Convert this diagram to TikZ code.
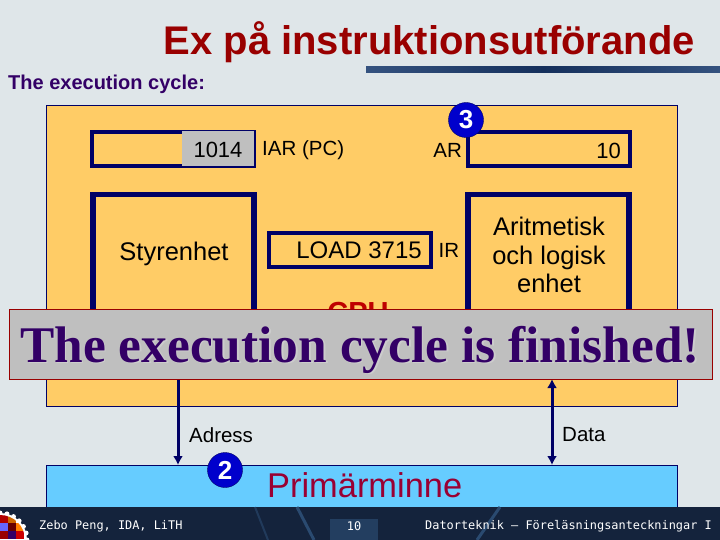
\documentclass[tikz,border=0pt]{standalone}
\usepackage{fontspec}
\setmainfont{Liberation Sans}
\newfontfamily\bannerfont{Liberation Serif}
\newfontfamily\footfont{DejaVu Sans Mono}
\usetikzlibrary{positioning, arrows.meta, shapes.geometric}

\definecolor{slidebg}{HTML}{DFE6E9}
\definecolor{cpufill}{HTML}{FFCC66}
\definecolor{memfill}{HTML}{66CCFF}
\definecolor{navy}{HTML}{000066}
\definecolor{titlered}{HTML}{990000}
\definecolor{memred}{HTML}{990033}
\definecolor{violet}{HTML}{330066}
\definecolor{footbg}{HTML}{14233C}
\definecolor{footline}{HTML}{2A4A70}
\definecolor{ruleA}{HTML}{34527F}
\definecolor{ruleB}{HTML}{15305C}

\begin{document}
\begin{tikzpicture}[
    x=1pt, y=-1pt,
    % --- Styles ---
    panel/.style={
        rectangle,
        draw=navy,
        line width=1pt,
        anchor=north west,
        inner sep=0pt
    },
    register/.style={
        rectangle,
        draw=navy,
        line width=4pt,
        minimum height=34pt,
        anchor=north west,
        inner sep=0pt
    },
    unitbox/.style={
        rectangle,
        draw=navy,
        line width=5.5pt,
        minimum height=176pt,
        anchor=north west,
        inner sep=0pt
    },
    unittext/.style={
        align=center,
        inner sep=0pt,
        font=\fontsize{25.5}{28.5}\selectfont
    },
    regtext/.style={
        inner sep=0pt,
        font=\fontsize{22}{26}\selectfont
    },
    tag/.style={
        inner sep=0pt,
        font=\fontsize{20.5}{24}\selectfont
    },
    stepmark/.style={
        circle,
        fill=blue!80!black,
        draw=navy,
        text=white,
        minimum size=35pt,
        inner sep=0pt,
        font=\fontsize{26}{26}\selectfont\bfseries
    },
    bannertext/.style={
        inner sep=0pt,
        font=\fontsize{51.4}{56}\selectfont\bfseries\bannerfont
    },
    foottext/.style={
        inner sep=0pt,
        text=white,
        font=\fontsize{11.9}{14}\selectfont\footfont
    },
    bus/.style={
        draw=navy,
        line width=3pt
    },
    busarrow/.style={
        -{Latex[length=9pt, width=10pt]},
        bus
    }
]

\useasboundingbox (0,0) rectangle (720,540);
\fill[slidebg] (0,0) rectangle (720,540);

% --- Title ---
\node[anchor=base east, inner sep=0pt, text=titlered, font=\fontsize{40}{44}\selectfont\bfseries] (title) at (695,55) {Ex på instruktionsutförande};
\node[anchor=north west, minimum width=177pt, minimum height=6pt, inner sep=0pt,
    left color=ruleA, right color=ruleB] (ruleleft) at (366,66) {};
\node[anchor=north west, minimum width=177pt, minimum height=6pt, inner sep=0pt,
    left color=ruleB, right color=ruleA] (ruleright) at (543,66) {};
\node[anchor=base west, inner sep=0pt, text=violet, font=\fontsize{20}{24}\selectfont\bfseries] (cycle) at (8,90) {The execution cycle:};

% --- Nodes ---
\node[panel, fill=cpufill, minimum width=631pt, minimum height=301pt] (cpu) at (46,105) {};
\node[panel, fill=memfill, minimum width=631pt, minimum height=60pt] (mem) at (46,465) {};

\node[register, minimum width=162pt] (iar) at (90,130) {};
\node[anchor=east, fill=black!25, minimum width=72pt, minimum height=35pt, inner sep=0pt] (iarval) at ([xshift=-2pt]iar.east) {};
\node[regtext] (iarnum) at (218,150) {1014};
\node[tag, right=6pt of iar, yshift=-1pt] (iarlabel) {IAR (PC)};

\node[register, minimum width=162pt] (ar) at (466,130) {};
\node[tag, left=4pt of ar, yshift=-1pt] (arlabel) {AR};
\node[regtext, anchor=east] (arnum) at (621,151) {10};

\node[unitbox, minimum width=161pt] (ctrl) at (90,192) {};
\node[unittext] (ctrltext) at (174,254) {Styrenhet};
\node[unitbox, minimum width=161pt] (alu) at (465,192) {};
\node[unittext] (alutext) at (549,255) {Aritmetisk \\ och logisk \\ enhet};

\node[register, minimum width=161.5pt] (ir) at (267,231) {};
\node[regtext, anchor=east, font=\fontsize{24}{26}\selectfont] (irnum) at (422,250) {LOAD 3715};
\node[tag, right=6pt of ir] (irlabel) {IR};

\node[inner sep=0pt, text=red!75!black, font=\fontsize{29}{32}\selectfont\bfseries] (cpulabel) at (358,313) {CPU};

\node[stepmark] (three) at (466,120) {3};

% --- Arrows ---
\coordinate (adrtop) at (178,345);
\coordinate (datatop) at (552,379);
\draw[busarrow] (adrtop) -- (adrtop |- mem.north);
\draw[busarrow, {Latex[length=9pt, width=10pt]}-{Latex[length=9pt, width=10pt]}] (datatop) -- (datatop |- mem.north);

\node[tag, anchor=west] (adrlabel) at (189,435) {Adress};
\node[tag, anchor=west] (datalabel) at (562,435) {Data};
\node[stepmark] (two) at (225,470) {2};
\node[anchor=west, inner sep=0pt, text=memred, font=\fontsize{34.4}{38}\selectfont] (memlabel) at (267,485) {Primärminne};

% --- Banner ---
\node[rectangle, draw=titlered, fill=black!25, minimum width=703pt, minimum height=70pt, inner sep=0pt] (banner) at (360.5,344.5) {};
\node[bannertext, text=white!80!black] (bannershadow) at (361.5,351) {The execution cycle is finished!};
\node[bannertext, text=violet] (bannerlabel) at (360,349.5) {The execution cycle is finished!};

% --- Footer ---
\fill[footbg] (0,507) rectangle (720,540);
\fill[footline!70!footbg] (330,519) rectangle (378,540);
\draw[footline, line width=3pt] (297,507) -- (314,540);
\draw[footline, line width=3pt] (500,507) -- (477,540);
\draw[footline, line width=2pt, opacity=.6] (255,507) -- (268,540);
\foreach \a in {0,15,...,90}
    \fill[white] (0,540) ++(-\a:27) circle (2.5pt);
\fill[white] (0,540) circle (27pt);
\begin{scope}
    \clip (0,540) circle (25pt);
    \foreach \col/\px/\py in {red!70!black/0/515, orange!80!black/8/515, blue!60/0/523, black!60!red/8/523, orange/16/523, red!60!black/0/531, violet/8/531, red!80!black/16/531}
        \fill[\col] (\px,\py) rectangle ++(8,8);
\end{scope}
\node[foottext, anchor=west] (author) at (39,526) {Zebo Peng, IDA, LiTH};
\node[foottext] (pagenum) at (354,526) {10};
\node[foottext, anchor=east] (course) at (712,526) {Datorteknik — Föreläsningsanteckningar I};

\end{tikzpicture}
\end{document}
